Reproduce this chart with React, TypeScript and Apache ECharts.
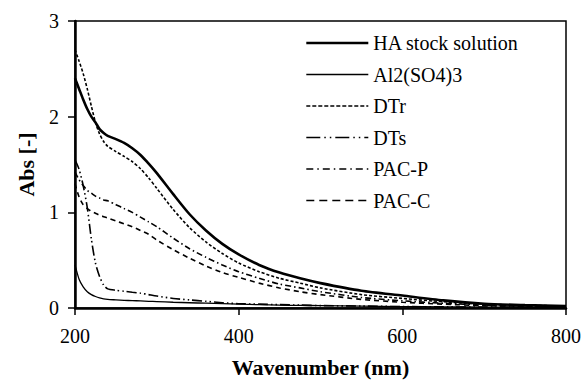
import React, { useEffect, useRef } from "react";
import * as echarts from "echarts";

const wavelengths = [200, 205, 210, 215, 220, 225, 230, 235, 240, 250, 260, 270, 280, 290, 300, 320, 340, 360, 380, 400, 425, 450, 475, 500, 550, 600, 650, 700, 750, 800];

const haStock = [2.40, 2.29, 2.18, 2.08, 2.00, 1.94, 1.87, 1.83, 1.80, 1.765, 1.725, 1.67, 1.60, 1.51, 1.41, 1.19, 0.98, 0.81, 0.67, 0.56, 0.45, 0.37, 0.31, 0.26, 0.18, 0.13, 0.08, 0.045, 0.03, 0.02];
const al2so43 = [0.45, 0.30, 0.22, 0.17, 0.14, 0.12, 0.105, 0.095, 0.09, 0.085, 0.08, 0.077, 0.074, 0.07, 0.067, 0.06, 0.055, 0.05, 0.045, 0.04, 0.035, 0.03, 0.027, 0.025, 0.02, 0.015, 0.012, 0.01, 0.008, 0.006];
const dtr = [2.70, 2.58, 2.45, 2.29, 2.11, 1.94, 1.82, 1.74, 1.69, 1.635, 1.585, 1.53, 1.455, 1.36, 1.25, 1.03, 0.84, 0.69, 0.57, 0.47, 0.38, 0.31, 0.26, 0.21, 0.14, 0.10, 0.065, 0.04, 0.03, 0.02];
const dts = [1.55, 1.45, 1.28, 1.05, 0.72, 0.47, 0.33, 0.24, 0.20, 0.185, 0.175, 0.165, 0.155, 0.14, 0.125, 0.10, 0.085, 0.07, 0.055, 0.045, 0.04, 0.035, 0.03, 0.025, 0.02, 0.015, 0.012, 0.01, 0.01, 0.01];
const pacP = [1.42, 1.34, 1.28, 1.23, 1.20, 1.17, 1.15, 1.13, 1.12, 1.08, 1.04, 1.00, 0.95, 0.90, 0.85, 0.73, 0.62, 0.53, 0.45, 0.38, 0.31, 0.25, 0.21, 0.17, 0.11, 0.075, 0.05, 0.03, 0.02, 0.015];
const pacC = [1.30, 1.16, 1.08, 1.04, 1.01, 0.99, 0.97, 0.955, 0.94, 0.91, 0.88, 0.85, 0.81, 0.77, 0.71, 0.61, 0.52, 0.44, 0.37, 0.32, 0.26, 0.21, 0.17, 0.14, 0.09, 0.06, 0.04, 0.025, 0.018, 0.012];

const seriesNames = ["HA stock solution", "Al2(SO4)3", "DTr", "DTs", "PAC-P", "PAC-C"];
const xTicks = [200, 400, 600, 800];
const yTicks = [0, 1, 2, 3];

const FONT = "Liberation Serif";

export default function App() {
  const ref = useRef<HTMLDivElement>(null);
  useEffect(() => {
    if (!ref.current) return;
    const chart = echarts.init(ref.current, undefined, { renderer: "svg" });
    const values = [haStock, al2so43, dtr, dts, pacP, pacC];
    const styles: any[] = [
      { width: 2.6, type: "solid" },
      { width: 1.3, type: "solid" },
      { width: 1.6, type: [3, 2] },
      { width: 1.6, type: [10, 3, 1.5, 3, 1.5, 3] },
      { width: 1.6, type: [6, 3, 1.5, 3] },
      { width: 1.6, type: [5, 4] },
    ];
    const legendStyles: any[] = [
      { width: 2.6, type: "solid" },
      { width: 1.6, type: "solid" },
      { width: 1.6, type: [4, 2] },
      { width: 1.6, type: [14, 4, 1.5, 4, 1.5, 4] },
      { width: 1.6, type: [7, 4, 1.5, 4] },
      { width: 1.6, type: [8, 5] },
    ];
    chart.setOption({
      animation: false,
      backgroundColor: "#fff",
      grid: {
        left: 75,
        right: 18,
        top: 21,
        bottom: 71,
        show: true,
        borderColor: "#000",
        borderWidth: 1.5,
        backgroundColor: "transparent",
      },
      legend: {
        orient: "vertical",
        left: 300,
        top: 28,
        itemWidth: 62,
        itemHeight: 14,
        itemGap: 11.5,
        itemStyle: { opacity: 0 },
        textStyle: { fontSize: 20, fontFamily: FONT, color: "#000" },
        data: seriesNames.map((name, i) => ({
          name,
          itemStyle: { opacity: 0 },
          lineStyle: { color: "#000", ...legendStyles[i] },
        })),
      },
      xAxis: {
        type: "value",
        min: xTicks[0],
        max: xTicks[xTicks.length - 1],
        interval: 200,
        name: "Wavenumber (nm)",
        nameLocation: "middle",
        nameGap: 48,
        nameTextStyle: { fontSize: 22, fontWeight: "bold", fontFamily: FONT, color: "#000" },
        axisLine: { show: true, onZero: false, lineStyle: { color: "#000", width: 2.5 } },
        axisTick: { show: true, inside: false, length: 7, lineStyle: { color: "#000", width: 1.5 } },
        axisLabel: { fontSize: 20, fontFamily: FONT, color: "#000", margin: 18 },
        splitLine: { show: false },
      },
      yAxis: {
        type: "value",
        min: yTicks[0],
        max: yTicks[yTicks.length - 1],
        interval: 1,
        name: "Abs [-]",
        nameLocation: "middle",
        nameGap: 38,
        nameTextStyle: { fontSize: 22, fontWeight: "bold", fontFamily: FONT, color: "#000" },
        axisLine: { show: true, onZero: false, lineStyle: { color: "#000", width: 2.5 } },
        axisTick: { show: true, inside: false, length: 7, lineStyle: { color: "#000", width: 1.5 } },
        axisLabel: { fontSize: 20, fontFamily: FONT, color: "#000", margin: 16 },
        splitLine: { show: false },
      },
      series: seriesNames.map((name, i) => ({
        name,
        type: "line",
        showSymbol: false,
        symbol: "none",
        smooth: 0.25,
        color: "#000",
        lineStyle: { color: "#000", ...styles[i] },
        data: wavelengths.map((w, j) => [w, values[i][j]]),
        z: 10 - i,
      })),
    });
    return () => chart.dispose();
  }, []);
  return (
    <div
      ref={ref}
      style={{ position: "absolute", left: 0, top: 0, width: 584, height: 383, background: "#fff" }}
    />
  );
}
